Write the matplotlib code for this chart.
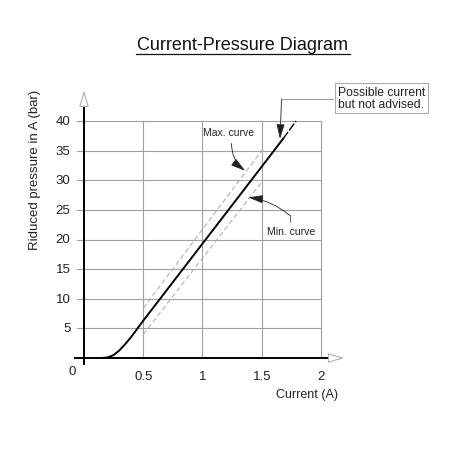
import numpy as np
import matplotlib
matplotlib.use("Agg")
import matplotlib.pyplot as plt

plt.rcParams['font.family'] = ['Liberation Sans', 'DejaVu Sans']

# data
curve_x = [0.15, 0.20, 0.25, 0.30, 0.35, 0.40, 0.50, 1.00, 1.50, 1.68]
curve_y = [0.0, 0.1, 0.5, 1.3, 2.4, 3.6, 6.3, 19.3, 32.3, 37.0]
advised_x = [1.68, 1.79]
advised_y = [37.0, 40.0]
max_x = [0.5, 1.5]
max_y = [8.4, 35.0]
min_x = [0.5, 1.5]
min_y = [4.0, 29.7]

xticks = [0.5, 1, 1.5, 2]
xticklabels = ["0.5", "1", "1.5", "2"]
yticks = [5, 10, 15, 20, 25, 30, 35, 40]

W, H = 452, 452
fig = plt.figure(figsize=(4.52, 4.52), dpi=100)
# x: 0 -> px 84, 118.5 px/unit ; y: 0 -> px 93 from bottom, 5.925 px/unit
xl = (-0.2, 2.4)
yl = (-3, 47)
left = 84 + xl[0] * 118.5
bottom = 93 + yl[0] * 5.925
ax = fig.add_axes([left / W, bottom / H,
                   (xl[1] - xl[0]) * 118.5 / W, (yl[1] - yl[0]) * 5.925 / H])
ax.set_xlim(*xl)
ax.set_ylim(*yl)
ax.axis('off')

grid_c = '#a0a0a0'
for x in xticks:
    ax.plot([x, x], [0, 40], color=grid_c, lw=0.8, zorder=1)
for y in yticks:
    ax.plot([-0.06, 2], [y, y], color=grid_c, lw=0.8, zorder=1)

# axes with arrows
ax.plot([-0.08, 2.08], [0, 0], color='black', lw=1.4, zorder=3)
ax.plot([0, 0], [-1, 44], color='black', lw=1.4, zorder=3)
ax.annotate('', xy=(2.22, 0), xytext=(2.05, 0),
            arrowprops=dict(arrowstyle='-|>,head_length=1.0,head_width=0.3',
                            fc='white', ec='#b0b0b0', lw=0.8))
ax.annotate('', xy=(0, 45.6), xytext=(0, 43),
            arrowprops=dict(arrowstyle='-|>,head_length=1.0,head_width=0.3',
                            fc='white', ec='#b0b0b0', lw=0.8))

tick_c = '#222222'
for x, lab in zip(xticks, xticklabels):
    ax.text(x, -3.1, lab, fontsize=9.5, ha='center', va='center', color=tick_c)
for y in yticks:
    ax.text(-0.115, y, str(y), fontsize=9.5, ha='right', va='center', color=tick_c)
ax.text(-0.1, -2.2, "0", fontsize=9.5, ha='center', va='center', color=tick_c)

# curves
ax.plot(curve_x, curve_y, color='black', lw=1.4, zorder=4)
ax.plot(advised_x, advised_y, color='black', lw=1.0, ls=(0, (6, 1.5)), zorder=4)
ax.plot(max_x, max_y, color='#a8a8a8', lw=0.7, ls=(0, (5, 3)), zorder=2)
ax.plot(min_x, min_y, color='#a8a8a8', lw=0.7, ls=(0, (5, 3)), zorder=2)

# annotations
head = dict(arrowstyle='-|>,head_length=0.9,head_width=0.25', color='#222222',
            lw=0.6, shrinkA=0, shrinkB=0)
ax.text(1.224, 38.1, "Max. curve", fontsize=7.5, ha='center', va='center', color=tick_c)
ax.annotate('', xy=(1.36, 31.6), xytext=(1.245, 36.2),
            arrowprops=dict(head, connectionstyle='arc3,rad=0.25'))
ax.text(1.75, 21.5, "Min. curve", fontsize=7.5, ha='center', va='center', color=tick_c)
ax.plot([1.74, 1.74], [22.9, 24.0], color='#555555', lw=0.6)
ax.annotate('', xy=(1.387, 27.1), xytext=(1.74, 24.0),
            arrowprops=dict(head, connectionstyle='arc3,rad=0.15'))

ax.annotate('', xy=(1.654, 37.0), xytext=(1.667, 43.7),
            arrowprops=dict(head))
ax.plot([1.667, 2.1], [43.7, 43.7], color='#888888', lw=0.6)
ax.text(2.14, 43.9, "Possible current\nbut not advised.", fontsize=8.7,
        ha='left', va='center', linespacing=0.95, color=tick_c,
        bbox=dict(boxstyle='square,pad=0.25', fc='white', ec='#999999', lw=0.6))

fig.text(35 / W, 1 - 170 / H, "Riduced pressure in A (bar)", rotation=90,
         fontsize=9.5, ha='center', va='center', color=tick_c)
fig.text(307 / W, 1 - 395 / H, "Current (A)", fontsize=9,
         ha='center', va='center', color=tick_c)
fig.text(243 / W, 1 - 45 / H, "Current-Pressure Diagram", fontsize=13,
         ha='center', va='center', color='#111111')
fig.add_artist(plt.Line2D([136 / W, 350 / W], [1 - 55 / H, 1 - 55 / H],
                          color='#111111', lw=0.9))

fig.savefig("out.png", dpi=100, facecolor='white')
